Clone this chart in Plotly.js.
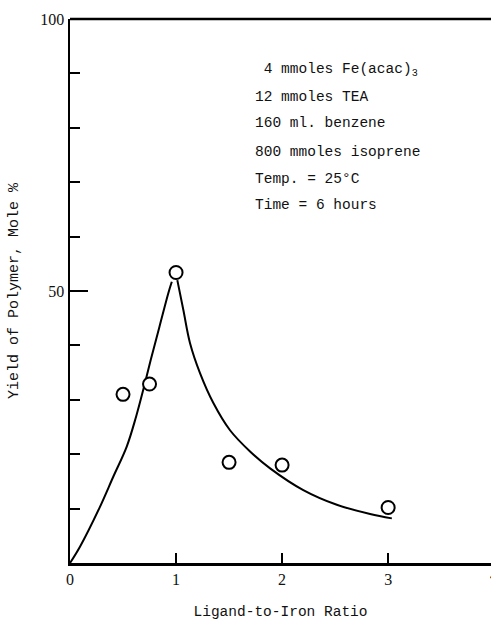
<!DOCTYPE html>
<html>
<head>
<meta charset="utf-8">
<script src="https://cdn.plot.ly/plotly-3.0.1.min.js"></script>
<style>
  html, body { margin: 0; padding: 0; background: #fff; }
  #chart { width: 491px; height: 620px; position: relative; }
  /* the source figure has no right-hand frame line */
  #edgeMask { position: absolute; left: 486px; top: 22px; width: 6px; height: 537px; background: #fff; z-index: 1000; pointer-events: none; }
</style>
</head>
<body>
<div id="chart"></div>
<div id="edgeMask"></div>
<script>
// Measured points (open circles)
const ratioPoints = [0.5, 0.75, 1.0, 1.5, 2.0, 3.0];
const yieldPoints = [31.0, 32.9, 53.4, 18.5, 18.0, 10.2];

// Hand-drawn curve, rising branch
const riseX = [0, 0.094, 0.277, 0.409, 0.535, 0.623, 0.698, 0.761, 0.843, 0.927, 0.96];
const riseY = [0, 3.0, 10.1, 15.9, 21.4, 26.9, 32.4, 37.3, 43.4, 49.6, 51.7];

// Hand-drawn curve, falling branch
const fallX = [1.012, 1.069, 1.132, 1.226, 1.352, 1.509, 1.698, 1.887, 2.20, 2.516, 2.83, 3.035];
const fallY = [52.0, 46.5, 40.4, 34.9, 29.4, 24.4, 20.5, 17.4, 13.4, 10.7, 9.0, 8.2];

// Axis ticks
const xTickVals = [0, 1, 2, 3];
const xTickText = ['0', '1', '2', '3'];
const yTickVals = [50, 100];
const yTickText = ['50', '100'];
const yMinorVals = [10, 20, 30, 40, 60, 70, 80, 90];

// Conditions text
const noteLines = [
  '\u00a04 mmoles Fe(acac)<sub>3</sub>',
  '12 mmoles TEA',
  '160 ml. benzene',
  '800 mmoles isoprene',
  'Temp. = 25\u00b0C',
  'Time = 6 hours'
];
const noteY = [90.6, 85.6, 80.8, 75.6, 70.6, 65.8];
const noteX = 1.726;

const mono = 'Liberation Mono, DejaVu Sans Mono, monospace';
const serif = 'Liberation Serif, DejaVu Serif, serif';

const traces = [
  {
    x: riseX, y: riseY, type: 'scatter', mode: 'lines',
    line: { color: '#000', width: 2, shape: 'spline', smoothing: 1 },
    hoverinfo: 'skip', showlegend: false
  },
  {
    x: fallX, y: fallY, type: 'scatter', mode: 'lines',
    line: { color: '#000', width: 2, shape: 'spline', smoothing: 1 },
    hoverinfo: 'skip', showlegend: false
  },
  {
    x: ratioPoints, y: yieldPoints, type: 'scatter', mode: 'markers',
    marker: { symbol: 'circle', size: 13, color: '#fff', line: { color: '#000', width: 2 } },
    showlegend: false
  }
];

const annotations = noteLines.map((t, i) => ({
  x: noteX, y: noteY[i], xref: 'x', yref: 'y',
  text: t, showarrow: false, xanchor: 'left', yanchor: 'middle',
  font: { family: mono, size: 14.5, color: '#111' }
}));
// tick label "4", cut by the right edge as in the source
annotations.push({
  x: 1.007, y: 0, xref: 'paper', yref: 'paper', yshift: -12,
  text: '4', showarrow: false, xanchor: 'center', yanchor: 'middle',
  font: { family: serif, size: 16, color: '#111' }
});

const layout = {
  width: 491, height: 620,
  margin: { l: 70, r: 0, t: 19, b: 57 },
  paper_bgcolor: '#fff', plot_bgcolor: '#fff',
  showlegend: false,
  font: { family: serif, color: '#111' },
  shapes: [
    { type: 'line', xref: 'paper', yref: 'paper', x0: 0, x1: 1.01, y0: 1, y1: 1,
      line: { color: '#000', width: 2.5 }, layer: 'above' }
  ],
  xaxis: {
    range: [0, 3.97],
    showgrid: false, zeroline: false,
    showline: true, linecolor: '#000', linewidth: 2.5,
    ticks: 'inside', ticklen: 10, tickwidth: 2, tickcolor: '#000',
    tickvals: xTickVals, ticktext: xTickText,
    tickfont: { family: serif, size: 16, color: '#111' },
    title: { text: 'Ligand-to-Iron Ratio', font: { family: mono, size: 14.5, color: '#111' }, standoff: 22 },
    automargin: false
  },
  yaxis: {
    range: [0, 100],
    showgrid: false, zeroline: false,
    showline: true, linecolor: '#000', linewidth: 2.5,
    ticks: 'inside', ticklen: 18, tickwidth: 2, tickcolor: '#000',
    tickvals: yTickVals, ticktext: yTickText,
    tickfont: { family: serif, size: 16, color: '#111' },
    ticklabelstandoff: 0,
    minor: { tickvals: yMinorVals, ticks: 'inside', ticklen: 10, tickwidth: 2, tickcolor: '#000' },
    title: { text: 'Yield of Polymer, Mole %', font: { family: mono, size: 15, color: '#111' }, standoff: 18 },
    automargin: false
  },
  annotations: annotations
};

Plotly.newPlot('chart', traces, layout, { staticPlot: true, displayModeBar: false });
</script>
</body>
</html>
